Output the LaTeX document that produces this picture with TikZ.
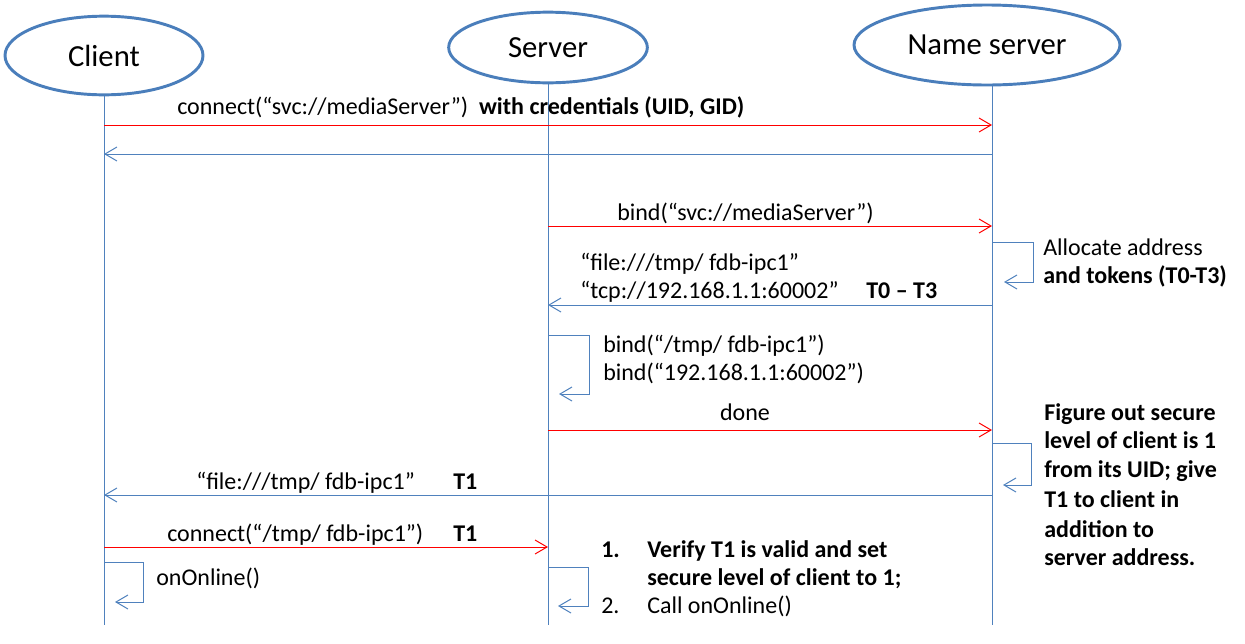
\documentclass[tikz,border=0pt]{standalone}
\usepackage{fontspec}
\setmainfont{Carlito}
\usetikzlibrary{shapes.geometric,arrows.meta}
\definecolor{lblue}{RGB}{79,129,189}
\definecolor{eblue}{RGB}{74,126,187}
\begin{document}
\begin{tikzpicture}[x=0.75pt,y=-0.75pt,
  actor/.style={ellipse,draw=eblue,line width=2.2pt,fill=white,inner sep=0pt,font=\fontsize{23}{27}\selectfont},
  life/.style={draw=lblue,line width=0.75pt},
  req/.style={draw=red,line width=0.75pt,-{Straight Barb[length=9pt,width=10.5pt]}},
  rep/.style={draw=lblue,line width=0.75pt,-{Straight Barb[length=9pt,width=10.5pt]}},
  lbl/.style={anchor=base west,inner sep=0pt,font=\fontsize{18}{21.75}\selectfont},
  lblc/.style={anchor=base,inner sep=0pt,font=\fontsize{18}{21.75}\selectfont}]
\useasboundingbox (0,0) rectangle (1245,643);
% actors
\node[actor,minimum width=148.5pt,minimum height=59pt] (client) at (104,55.5) {Client};
\node[actor,minimum width=149pt,minimum height=53pt] (server) at (548,47.5) {Server};
\node[actor,minimum width=199.5pt,minimum height=60pt] (ns) at (987,45) {Name server};
% lifelines
\coordinate (cbot) at (104,625);
\coordinate (sbot) at (548,625);
\coordinate (nbot) at (992,625);
\draw[life] (client.south) -- (cbot);
\draw[life] (server.south) -- (sbot);
\draw[life] (ns.south -| nbot) -- (nbot);
% message 1
\coordinate (m1a) at (104,125); \coordinate (m1b) at (992,125);
\draw[req] (m1a) -- (m1b);
\node[lbl] (l1) at (177,114) {connect(“svc://mediaServer”)\ \ \textbf{with credentials (UID, GID)}};
% message 2
\coordinate (m2a) at (992,154); \coordinate (m2b) at (104,154);
\draw[rep] (m2a) -- (m2b);
% message 3
\coordinate (m3a) at (548,226); \coordinate (m3b) at (992,226);
\draw[req] (m3a) -- (m3b);
\node[lbl] (l3) at (617,220) {bind(“svc://mediaServer”)};
% NS self loop 1
\coordinate (n1a) at (992,242); \coordinate (n1b) at (1004,282);
\draw[rep] (n1a) -- (1033,242) -- (1033,282) -- (n1b);
\node[lbl] (l4a) at (1043,255) {Allocate address};
\node[lbl] (l4b) at (1043,283) {\textbf{and tokens (T0-T3)}};
% message 5
\coordinate (m5a) at (992,305); \coordinate (m5b) at (548,305);
\draw[rep] (m5a) -- (m5b);
\node[lbl] (l5a) at (580,270) {“file:///tmp/ fdb-ipc1”};
\node[lbl] (l5b) at (580,298) {“tcp://192.168.1.1:60002”};
\node[lbl] (l5c) at (866,298) {\textbf{T0 – T3}};
% server self loop 1
\coordinate (s1a) at (548,335); \coordinate (s1b) at (559,394);
\draw[rep] (s1a) -- (589,335) -- (589,394) -- (s1b);
\node[lbl] (l6a) at (603,352) {bind(“/tmp/ fdb-ipc1”)};
\node[lbl] (l6b) at (603,380) {bind(“192.168.1.1:60002”)};
% message 7
\coordinate (m7a) at (548,430); \coordinate (m7b) at (992,430);
\draw[req] (m7a) -- (m7b);
\node[lblc] (l7) at (745,420) {done};
% NS self loop 2
\coordinate (n2a) at (992,443); \coordinate (n2b) at (1003,485);
\draw[rep] (n2a) -- (1031,443) -- (1031,485) -- (n2b);
\node[lbl] (l8a) at (1044,420) {\textbf{Figure out secure}};
\node[lbl] (l8b) at (1044,448) {\textbf{level of client is 1}};
\node[lbl] (l8c) at (1044,477) {\textbf{from its UID; give}};
\node[lbl] (l8d) at (1044,507) {\textbf{T1 to client in}};
\node[lbl] (l8e) at (1044,537) {\textbf{addition to}};
\node[lbl] (l8f) at (1044,565) {\textbf{server address.}};
% message 9
\coordinate (m9a) at (992,495); \coordinate (m9b) at (104,495);
\draw[rep] (m9a) -- (m9b);
\node[lbl] (l9a) at (196,489) {“file:///tmp/ fdb-ipc1”};
\node[lbl] (l9b) at (453,489) {\textbf{T1}};
% message 10
\coordinate (m10a) at (104,547); \coordinate (m10b) at (548,547);
\draw[req] (m10a) -- (m10b);
\node[lbl] (l10a) at (167,541) {connect(“/tmp/ fdb-ipc1”)};
\node[lbl] (l10b) at (453,541) {\textbf{T1}};
% client self loop
\coordinate (c1a) at (104,562); \coordinate (c1b) at (115,602);
\draw[rep] (c1a) -- (143,562) -- (143,602) -- (c1b);
\node[lbl] (l11) at (156,585) {onOnline()};
% server self loop 2
\coordinate (s2a) at (548,567); \coordinate (s2b) at (558,606);
\draw[rep] (s2a) -- (588,567) -- (588,606) -- (s2b);
\node[lbl] (l12a) at (601,557) {\textbf{1.}};
\node[lbl] (l12b) at (647,557) {\textbf{Verify T1 is valid and set}};
\node[lbl] (l12c) at (647,585) {\textbf{secure level of client to 1;}};
\node[lbl] (l12d) at (601,613) {2.};
\node[lbl] (l12e) at (647,613) {Call onOnline()};
\end{tikzpicture}
\end{document}
